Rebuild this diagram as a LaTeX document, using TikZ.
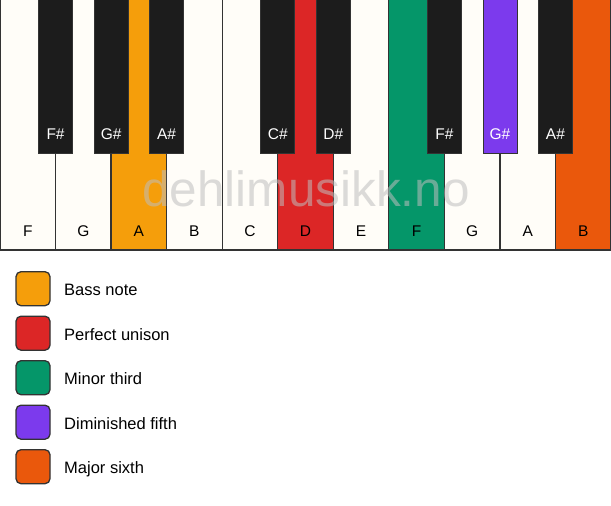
\documentclass[tikz,border=0pt]{standalone}
\usepackage{fontspec}
\setmainfont{Liberation Sans}
\definecolor{ivory}{HTML}{FFFDF8}
\definecolor{keyblack}{HTML}{1C1C1C}
\definecolor{keyline}{HTML}{333333}
\definecolor{cbass}{HTML}{F59E0B}
\definecolor{cunison}{HTML}{DC2626}
\definecolor{cminor}{HTML}{059669}
\definecolor{cdim}{HTML}{7C3AED}
\definecolor{csixth}{HTML}{EA580C}
\definecolor{wm}{HTML}{BEBEBE}
\begin{document}
\begin{tikzpicture}[x=1pt,y=-1pt,
  whitekey/.style={draw=keyline,line width=1.3pt},
  blackkey/.style={draw=keyline,line width=0.8pt,fill=keyblack},
  wlabel/.style={anchor=base,font=\fontsize{15.5}{18}\selectfont,text=black,inner sep=0pt},
  blabel/.style={anchor=base,font=\fontsize{15.5}{18}\selectfont,text=white,inner sep=0pt},
  legbox/.style={draw=keyline,line width=1.3pt,rounded corners=5pt,minimum width=34pt,minimum height=34pt,inner sep=0pt},
  legtext/.style={anchor=base west,font=\fontsize{16.5}{19}\selectfont,inner sep=0pt}]
\useasboundingbox (0,0) rectangle (611,506);
\fill[white] (0,0) rectangle (611,506);
% white keys
\def\kw{55.545}
\foreach \i/\n/\c in {0/F/ivory,1/G/ivory,2/A/cbass,3/B/ivory,4/C/ivory,5/D/cunison,6/E/ivory,7/F/cminor,8/G/ivory,9/A/ivory,10/B/csixth}{
  \path[whitekey,fill=\c] ({\i*\kw},-2) rectangle ({(\i+1)*\kw},250);
  \node[wlabel] (w\i) at ({(\i+0.5)*\kw},236) {\n};
}
% watermark
\node[anchor=base,font=\fontsize{49.5}{56}\selectfont,text=wm,opacity=0.55,inner sep=0pt] (wmark) at (306,206.5) {dehlimusikk.no};
% black keys
\foreach \b/\n/\c in {1/F\#/keyblack,2/G\#/keyblack,3/A\#/keyblack,5/C\#/keyblack,6/D\#/keyblack,8/F\#/keyblack,9/G\#/cdim,10/A\#/keyblack}{
  \path[blackkey,fill=\c] ({\b*\kw-17},-2) rectangle ({\b*\kw+17},153.3);
  \node[blabel] (b\b) at ({\b*\kw},139) {\n};
}
% legend
\foreach \j/\c/\t in {0/cbass/Bass note,1/cunison/Perfect unison,2/cminor/Minor third,3/cdim/Diminished fifth,4/csixth/Major sixth}{
  \node[legbox,fill=\c] (lb\j) at (33,{288.7+\j*44.5}) {};
  \node[legtext] (lt\j) at (64,{295.5+\j*44.5}) {\t};
}
\end{tikzpicture}
\end{document}
